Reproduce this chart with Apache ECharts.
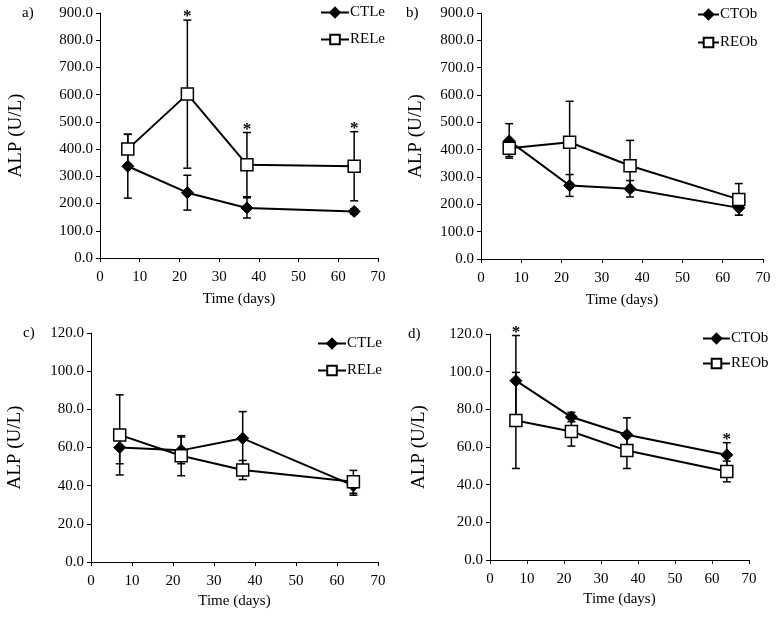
<!DOCTYPE html>
<html>
<head>
<meta charset="utf-8">
<script src="https://cdn.jsdelivr.net/npm/echarts@6/dist/echarts.min.js"></script>
<style>
  html, body { margin: 0; padding: 0; background: #fff; }
  #chart { width: 776px; height: 617px; }
</style>
</head>
<body>
<div id="chart"></div>
<script>
// sampling days
const days = [7, 22, 37, 64]

// panel a) leukocyte groups, 0-900
const aCTLe = [337, 240, 184, 171]
const aCTLeSD = [117, 64, 37, 10]
const aRELe = [400, 602, 343, 337]
const aRELeSD = [55, 272, 118, 127]
const aStar = [false, true, true, true]

// panel b) obese groups, 0-900
const bCTOb = [432, 269, 257, 187]
const bCTObSD = [63, 40, 30, 27]
const bREOb = [405, 427, 341, 218]
const bREObSD = [30, 150, 93, 58]

// panel c) leukocyte groups, 0-120
const cCTLe = [60, 58.5, 64.8, 40]
const cCTLeSD = [8.5, 7, 14, 5]
const cRELe = [66.6, 55.7, 48.2, 42]
const cRELeSD = [21, 10.5, 5, 6]

// panel d) obese groups, 0-120
const dCTOb = [95.2, 75.9, 66.5, 55.8]
const dCTObSD = [24, 2.5, 9, 6.5]
const dREOb = [74.1, 68.2, 58.1, 47]
const dREObSD = [25.5, 7.7, 9.5, 5.5]
const dStar = [true, false, false, true]

const FONT = '"Liberation Serif", "Times New Roman", serif'

const grids = [
  { left: 100, right: 398, top: 13, bottom: 359 },
  { left: 481, right: 13, top: 13, bottom: 358 },
  { left: 91, right: 398, top: 333, bottom: 55 },
  { left: 490, right: 27, top: 334, bottom: 57 }
]
const yMax = [900, 900, 120, 120]
const yStep = [100, 100, 20, 20]
const yNameGap = [74, 55, 66, 61]

const xAxes = grids.map((g, i) => ({
  type: 'value',
  gridIndex: i,
  min: 0,
  max: 70,
  interval: 10,
  name: 'Time (days)',
  nameLocation: 'middle',
  nameGap: i < 2 ? 34 : 32,
  nameTextStyle: { fontFamily: FONT, fontSize: 15, color: '#000' },
  axisLine: { lineStyle: { color: '#000', width: 1 } },
  axisTick: { show: true, length: 4, lineStyle: { color: '#000' } },
  axisLabel: { fontFamily: FONT, fontSize: 15, color: '#000', margin: 12 },
  splitLine: { show: false }
}))

const yAxes = grids.map((g, i) => ({
  type: 'value',
  gridIndex: i,
  min: 0,
  max: yMax[i],
  interval: yStep[i],
  name: 'ALP (U/L)',
  nameLocation: 'middle',
  nameGap: yNameGap[i],
  nameTextStyle: { fontFamily: FONT, fontSize: 19, color: '#000' },
  axisLine: { show: true, lineStyle: { color: '#000', width: 1 } },
  axisTick: { show: true, length: 4, lineStyle: { color: '#000' } },
  axisLabel: {
    fontFamily: FONT, fontSize: 15, color: '#000', margin: 7,
    formatter: v => v.toFixed(1)
  },
  splitLine: { show: false }
}))

function lineSeries(name, idx, vals, filled) {
  return {
    name: name,
    type: 'line',
    xAxisIndex: idx,
    yAxisIndex: idx,
    data: days.map((d, k) => [d, vals[k]]),
    symbol: filled ? 'diamond' : 'rect',
    symbolSize: 12,
    lineStyle: { color: '#000', width: 2 },
    itemStyle: filled
      ? { color: '#000', borderColor: '#000', borderWidth: 1 }
      : { color: '#fff', borderColor: '#000', borderWidth: 1.5 },
    z: 5,
    animation: false
  }
}

function errSeries(idx, vals, sd) {
  return {
    type: 'custom',
    xAxisIndex: idx,
    yAxisIndex: idx,
    data: days.map((d, k) => [d, vals[k] - sd[k], vals[k] + sd[k]]),
    renderItem: (params, api) => {
      const lo = api.coord([api.value(0), api.value(1)])
      const hi = api.coord([api.value(0), api.value(2)])
      const w = 4
      const st = { stroke: '#000', lineWidth: 1.5 }
      return {
        type: 'group',
        children: [
          { type: 'line', shape: { x1: lo[0], y1: lo[1], x2: hi[0], y2: hi[1] }, style: st },
          { type: 'line', shape: { x1: lo[0] - w, y1: lo[1], x2: lo[0] + w, y2: lo[1] }, style: st },
          { type: 'line', shape: { x1: hi[0] - w, y1: hi[1], x2: hi[0] + w, y2: hi[1] }, style: st }
        ]
      }
    },
    z: 3,
    silent: true,
    animation: false
  }
}

function starSeries(idx, vals, sd, flags) {
  const pts = []
  days.forEach((d, k) => { if (flags[k]) pts.push([d, vals[k] + sd[k]]) })
  return {
    type: 'custom',
    xAxisIndex: idx,
    yAxisIndex: idx,
    data: pts,
    renderItem: (params, api) => {
      const p = api.coord([api.value(0), api.value(1)])
      return {
        type: 'text',
        x: p[0],
        y: p[1] - 3,
        style: {
          text: '*', fill: '#000', font: 'bold 17px ' + FONT,
          align: 'center', verticalAlign: 'middle'
        }
      }
    },
    z: 6,
    silent: true,
    animation: false
  }
}

function legend(names, left, top, w, gap) {
  return {
    data: names,
    orient: 'vertical',
    left: left,
    top: top,
    padding: 0,
    itemWidth: w,
    itemHeight: 12,
    itemGap: gap,
    textStyle: { fontFamily: FONT, fontSize: 15, color: '#000', padding: [0, 0, 0, -4] },
    selectedMode: false
  }
}

function panelLabel(txt, x, y) {
  return {
    type: 'text', left: x, top: y,
    style: { text: txt, font: '15px ' + FONT, fill: '#000' }
  }
}

const option = {
  backgroundColor: '#fff',
  animation: false,
  grid: grids,
  xAxis: xAxes,
  yAxis: yAxes,
  legend: [
    legend(['CTLe', 'RELe'], 320, 5, 28, 12),
    legend(['CTOb', 'REOb'], 697, 7, 21, 13),
    legend(['CTLe', 'RELe'], 317, 336, 28, 12),
    legend(['CTOb', 'REOb'], 702, 331, 27, 10)
  ],
  graphic: [
    panelLabel('a)', 22, 6),
    panelLabel('b)', 406, 6),
    panelLabel('c)', 23, 326),
    panelLabel('d)', 408, 327)
  ],
  series: [
    errSeries(0, aCTLe, aCTLeSD),
    errSeries(0, aRELe, aRELeSD),
    lineSeries('CTLe', 0, aCTLe, true),
    lineSeries('RELe', 0, aRELe, false),
    starSeries(0, aRELe, aRELeSD, aStar),

    errSeries(1, bCTOb, bCTObSD),
    errSeries(1, bREOb, bREObSD),
    lineSeries('CTOb', 1, bCTOb, true),
    lineSeries('REOb', 1, bREOb, false),

    errSeries(2, cCTLe, cCTLeSD),
    errSeries(2, cRELe, cRELeSD),
    lineSeries('CTLe', 2, cCTLe, true),
    lineSeries('RELe', 2, cRELe, false),

    errSeries(3, dCTOb, dCTObSD),
    errSeries(3, dREOb, dREObSD),
    lineSeries('CTOb', 3, dCTOb, true),
    lineSeries('REOb', 3, dREOb, false),
    starSeries(3, dCTOb, dCTObSD, dStar)
  ]
}

const chart = echarts.init(document.getElementById('chart'))
chart.setOption(option)
</script>
</body>
</html>
